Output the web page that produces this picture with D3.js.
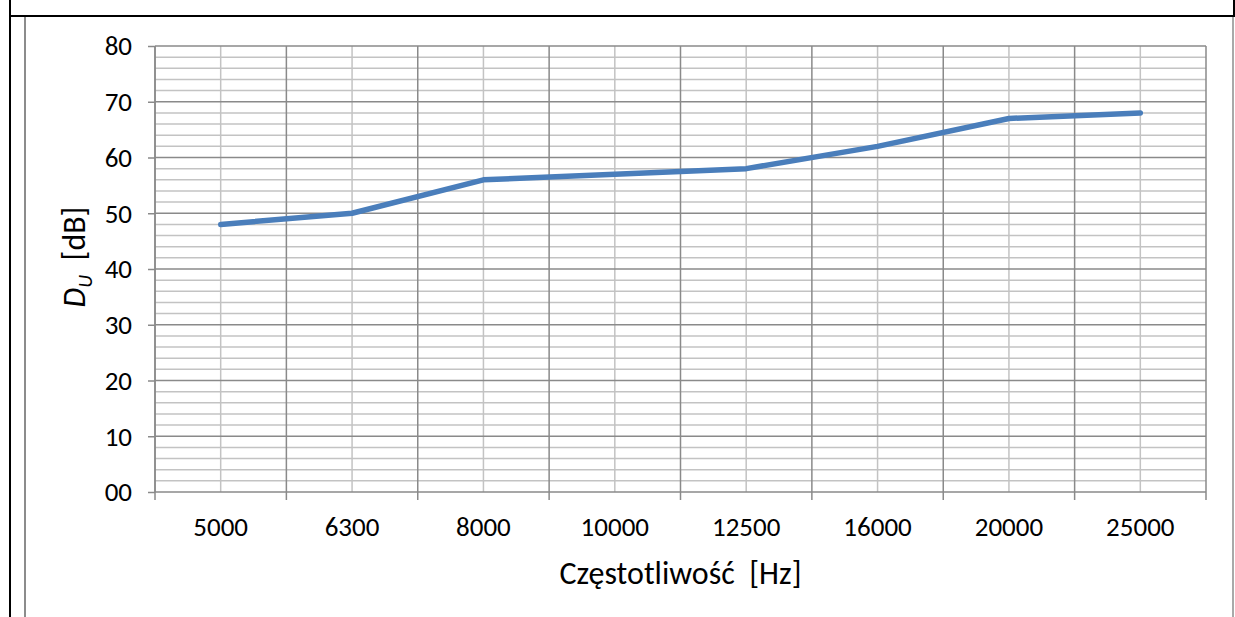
<!DOCTYPE html>
<html><head><meta charset="utf-8">
<script src="https://cdn.jsdelivr.net/npm/d3@7"></script>
<style>body{margin:0;background:#fff}svg{display:block}text{font-family:Carlito,Calibri,Lato,"Open Sans",sans-serif;fill:#000;white-space:pre}</style>
</head><body>
<script>
const categories = ["5000","6300","8000","10000","12500","16000","20000","25000"];
const values = [48, 50, 56, 57, 58, 62, 67, 68];
const yTicks = [0,10,20,30,40,50,60,70,80];
const yTickLabels = ["00","10","20","30","40","50","60","70","80"];

const W=1235,H=617;
const svg=d3.select("body").append("svg").attr("width",W).attr("height",H);
svg.append("line").attr("x1",10).attr("x2",W).attr("y1",16).attr("y2",16).attr("stroke","#000").attr("stroke-width",2);
svg.append("line").attr("x1",10).attr("x2",10).attr("y1",0).attr("y2",H).attr("stroke","#000").attr("stroke-width",2);
svg.append("line").attr("x1",W-1).attr("x2",W-1).attr("y1",0).attr("y2",16).attr("stroke","#000").attr("stroke-width",2);
svg.append("line").attr("x1",25).attr("x2",25).attr("y1",17).attr("y2",H).attr("stroke","#8c8c8c").attr("stroke-width",2);
svg.append("line").attr("x1",1233).attr("x2",1233).attr("y1",17).attr("y2",H).attr("stroke","#8c8c8c").attr("stroke-width",1.5);

const L=155,R=1206,T=46,B=492;
const x=d3.scaleBand().domain(categories).range([L,R]);
const y=d3.scaleLinear().domain([0,80]).range([B,T]);
const g=svg.append("g");
const minor=d3.range(0,81,2).filter(v=>v%10!==0);
g.selectAll(".hm").data(minor).enter().append("line")
 .attr("x1",L).attr("x2",R).attr("y1",d=>y(d)).attr("y2",d=>y(d)).attr("stroke","#c3c3c3").attr("stroke-width",1.5);
g.selectAll(".vm").data(categories).enter().append("line")
 .attr("x1",d=>x(d)+x.bandwidth()/2).attr("x2",d=>x(d)+x.bandwidth()/2).attr("y1",T).attr("y2",B).attr("stroke","#c3c3c3").attr("stroke-width",1.5);
g.selectAll(".hM").data(yTicks).enter().append("line")
 .attr("x1",L).attr("x2",R).attr("y1",d=>y(d)).attr("y2",d=>y(d)).attr("stroke","#8a8a8a").attr("stroke-width",1.5);
const bounds=categories.map(c=>x(c)).concat([R]);
g.selectAll(".vM").data(bounds).enter().append("line")
 .attr("x1",d=>d).attr("x2",d=>d).attr("y1",T).attr("y2",B+8).attr("stroke","#8a8a8a").attr("stroke-width",1.5);
const ya=d3.axisLeft(y).tickValues(yTicks).tickFormat((d,i)=>yTickLabels[i]).tickSize(7).tickPadding(16);
const yg=svg.append("g").attr("transform",`translate(${L},0)`).call(ya);
yg.select(".domain").attr("stroke","#8a8a8a").attr("stroke-width",1.5).attr("d",`M0,${T}V${B}`);
yg.selectAll(".tick line").attr("stroke","#8a8a8a").attr("stroke-width",1.5);
yg.selectAll(".tick text").style("font-size","27px").attr("dy","0.33em");
const xa=d3.axisBottom(x).tickSize(0);
const xg=svg.append("g").attr("transform",`translate(0,${B})`).call(xa);
xg.select(".domain").remove();
xg.selectAll(".tick text").style("font-size","27px").attr("y",44).attr("dy",0);
const line=d3.line().x((d,i)=>x(categories[i])+x.bandwidth()/2).y(d=>y(d));
svg.append("path").datum(values).attr("d",line).attr("fill","none").attr("stroke","#4a7ebb").attr("stroke-width",5.5).attr("stroke-linecap","round").attr("stroke-linejoin","round");
svg.append("text").attr("x",(L+R)/2).attr("y",584).attr("text-anchor","middle").style("font-size","32px").text("Częstotliwość  [Hz]");
const yt=svg.append("text").attr("transform","translate(85,257) rotate(-90)").attr("text-anchor","middle").style("font-size","32px");
yt.append("tspan").style("font-style","italic").text("D");
yt.append("tspan").style("font-style","italic").style("font-size","20px").attr("dy",7).text("U");
yt.append("tspan").attr("dy",-7).text("  [dB]");
</script>
</body></html>
